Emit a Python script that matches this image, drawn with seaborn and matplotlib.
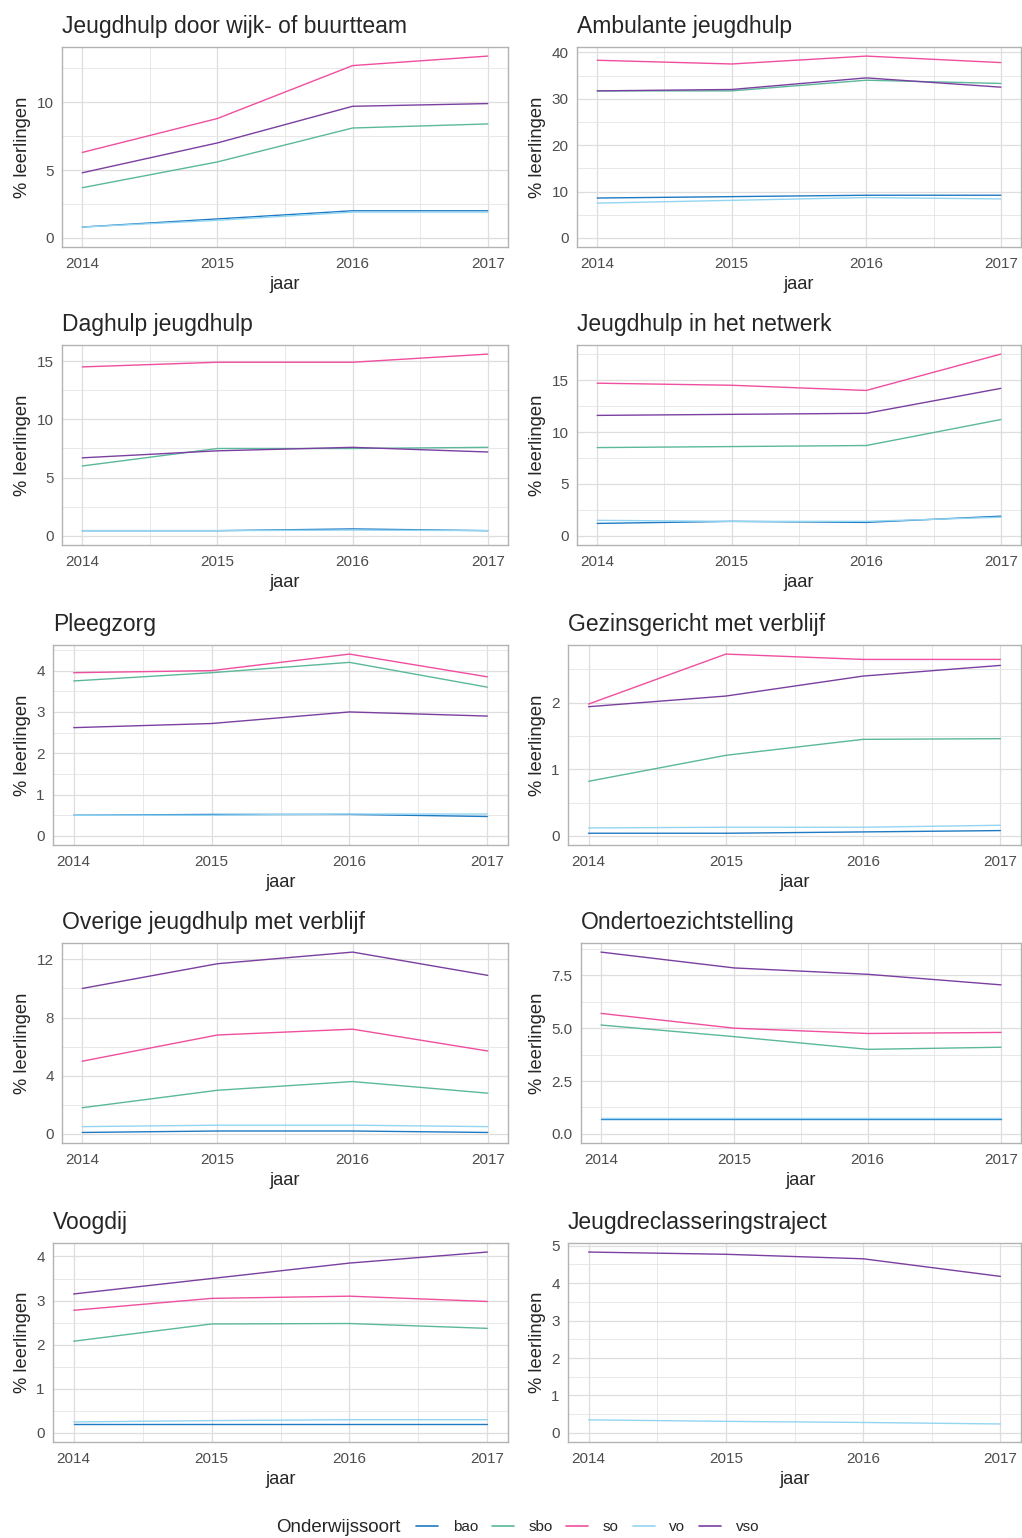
import matplotlib
matplotlib.use("Agg")
import matplotlib.pyplot as plt
from matplotlib.ticker import MultipleLocator, FormatStrFormatter
from matplotlib.lines import Line2D
import pandas as pd
import seaborn as sns

# --- data ---
jaren = [2014, 2015, 2016, 2017]
soorten = ["bao", "sbo", "so", "vo", "vso"]

wijkteam = {"bao": [0.8, 1.4, 2.0, 2.0], "sbo": [3.7, 5.6, 8.1, 8.4],
            "so": [6.3, 8.8, 12.7, 13.4], "vo": [0.8, 1.3, 1.9, 1.9],
            "vso": [4.8, 7.0, 9.7, 9.9]}
ambulant = {"bao": [8.6, 8.9, 9.2, 9.2], "sbo": [31.7, 31.7, 34.0, 33.3],
            "so": [38.3, 37.5, 39.2, 37.8], "vo": [7.5, 8.1, 8.7, 8.4],
            "vso": [31.7, 32.0, 34.5, 32.5]}
daghulp = {"bao": [0.45, 0.45, 0.6, 0.45], "sbo": [6.0, 7.5, 7.5, 7.6],
           "so": [14.5, 14.9, 14.9, 15.6], "vo": [0.45, 0.45, 0.5, 0.45],
           "vso": [6.7, 7.3, 7.6, 7.2]}
netwerk = {"bao": [1.2, 1.4, 1.3, 1.9], "sbo": [8.5, 8.6, 8.7, 11.2],
           "so": [14.7, 14.5, 14.0, 17.5], "vo": [1.5, 1.4, 1.4, 1.8],
           "vso": [11.6, 11.7, 11.8, 14.2]}
pleegzorg = {"bao": [0.5, 0.52, 0.52, 0.47], "sbo": [3.75, 3.95, 4.2, 3.6],
             "so": [3.95, 4.0, 4.4, 3.85], "vo": [0.5, 0.5, 0.53, 0.53],
             "vso": [2.62, 2.72, 3.0, 2.9]}
gezinsgericht = {"bao": [0.04, 0.04, 0.06, 0.08], "sbo": [0.82, 1.21, 1.45, 1.46],
                 "so": [1.98, 2.73, 2.65, 2.65], "vo": [0.12, 0.13, 0.13, 0.16],
                 "vso": [1.94, 2.1, 2.4, 2.56]}
overige = {"bao": [0.1, 0.2, 0.2, 0.1], "sbo": [1.8, 3.0, 3.6, 2.8],
           "so": [5.0, 6.8, 7.2, 5.7], "vo": [0.5, 0.6, 0.6, 0.5],
           "vso": [10.0, 11.7, 12.5, 10.9]}
ots = {"bao": [0.72, 0.72, 0.72, 0.72], "sbo": [5.15, 4.6, 4.0, 4.1],
       "so": [5.7, 5.0, 4.75, 4.8], "vo": [0.73, 0.73, 0.73, 0.73],
       "vso": [8.6, 7.85, 7.55, 7.05]}
voogdij = {"bao": [0.2, 0.2, 0.2, 0.2], "sbo": [2.08, 2.47, 2.48, 2.37],
           "so": [2.78, 3.05, 3.1, 2.98], "vo": [0.25, 0.28, 0.3, 0.3],
           "vso": [3.15, 3.5, 3.85, 4.1]}
jr = {"bao": [None] * 4, "sbo": [None] * 4, "so": [None] * 4,
      "vo": [0.35, 0.31, 0.28, 0.24], "vso": [4.83, 4.77, 4.65, 4.18]}

titels = ["Jeugdhulp door wijk- of buurtteam", "Ambulante jeugdhulp",
          "Daghulp jeugdhulp", "Jeugdhulp in het netwerk",
          "Pleegzorg", "Gezinsgericht met verblijf",
          "Overige jeugdhulp met verblijf", "Ondertoezichtstelling",
          "Voogdij", "Jeugdreclasseringstraject"]
reeksen = [wijkteam, ambulant, daghulp, netwerk, pleegzorg,
           gezinsgericht, overige, ots, voogdij, jr]

# --- style ---
kleuren = {"bao": "#1f7ac4", "sbo": "#5bb89b", "so": "#ef4f9e",
           "vo": "#94d5f2", "vso": "#7b3fa0"}
ystap = [5, 10, 5, 5, 1, 1, 4, 2.5, 1, 1]

W, H = 1022, 1538
links = [62, 577, 62, 577, 53, 568, 62, 581, 53, 568]
rechts = [508, 1021]
rijen = [(47, 247), (345, 545), (645, 845), (943, 1143), (1243, 1442)]
ylab_x = [31, 546]

sns.set_theme(style="white")
plt.rcParams["font.family"] = ["Liberation Sans", "DejaVu Sans"]

fig = plt.figure(figsize=(W / 100, H / 100), dpi=100)

for i, (titel, data) in enumerate(zip(titels, reeksen)):
    rij, kol = divmod(i, 2)
    top, bot = rijen[rij]
    l, r = links[i], rechts[kol]
    ax = fig.add_axes([l / W, 1 - bot / H, (r - l) / W, (bot - top) / H])

    df = pd.DataFrame([(j, s, v) for s in soorten for j, v in zip(jaren, data[s])],
                      columns=["jaar", "soort", "pct"]).dropna()
    sns.lineplot(data=df, x="jaar", y="pct", hue="soort", hue_order=soorten,
                 palette=kleuren, linewidth=1.0, legend=False, ax=ax)

    ymax = df["pct"].max()
    ax.set_ylim(-0.05 * ymax, 1.05 * ymax)
    ax.set_xlim(2014 - 0.15, 2017 + 0.15)
    ax.xaxis.set_major_locator(MultipleLocator(1))
    ax.xaxis.set_minor_locator(MultipleLocator(0.5))
    ax.yaxis.set_major_locator(MultipleLocator(ystap[i]))
    ax.yaxis.set_minor_locator(MultipleLocator(ystap[i] / 2))
    ax.yaxis.set_major_formatter(FormatStrFormatter("%.1f" if ystap[i] % 1 else "%d"))

    ax.set_axisbelow(True)
    ax.grid(which="major", color="#dedede", linewidth=0.9)
    ax.grid(which="minor", color="#e4e4e4", linewidth=0.6)
    for sp in ax.spines.values():
        sp.set_color("#b3b3b3")
        sp.set_linewidth(1.0)
    ax.tick_params(which="major", length=3.5, width=0.7, color="#b3b3b3",
                   labelcolor="#4d4d4d", labelsize=11, pad=2.5)
    ax.tick_params(which="minor", length=0)
    ax.tick_params(axis="x", pad=4)

    ax.set_title(titel, loc="left", fontsize=16.5, pad=10)
    ax.set_xlabel("jaar", fontsize=13.2, labelpad=3)
    ax.set_ylabel("% leerlingen", fontsize=13.2)
    ax.yaxis.set_label_coords((ylab_x[kol] - l) / (r - l), 0.5)

# legend at the bottom
ly = 1 - 1527 / H
fig.text(276 / W, ly, "Onderwijssoort", fontsize=13.5, va="center", ha="left")
handles = [Line2D([], [], color=kleuren[s], linewidth=1.2) for s in soorten]
fig.legend(handles, soorten, loc="center left", bbox_to_anchor=(416 / W, ly),
           ncol=5, frameon=False, fontsize=11, borderpad=0, borderaxespad=0,
           handlelength=1.45, handletextpad=0.95, columnspacing=0.9)

fig.savefig("out.png", dpi=100)
